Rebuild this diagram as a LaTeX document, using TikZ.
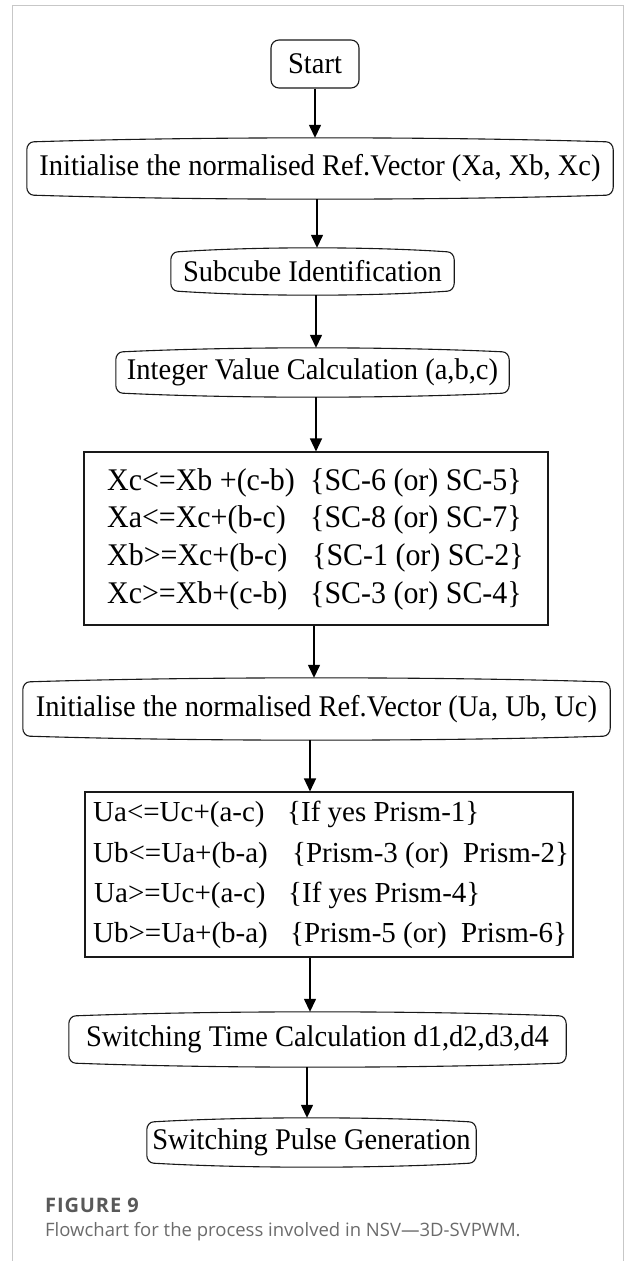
\documentclass[tikz,border=0pt]{standalone}
\usepackage{fontspec}
\setmainfont{Liberation Serif}
\newfontfamily\tallserif[FakeStretch=0.95]{Liberation Serif}
\newfontfamily\capfont{Open Sans}
\newfontfamily\caplabelfont[LetterSpace=4.5]{Open Sans}
\usetikzlibrary{arrows.meta,calc}
\newcommand\bulgeout[1]{%
 \draw[outline] ([yshift=-12pt]#1.north west) -- ([yshift=12pt]#1.south west)
   to[out=-90,in=180] ([shift={(7pt,4pt)}]#1.south west)
   .. controls ($(#1.south west)!0.3!(#1.south east)+(0,-1.3pt)$) and ($(#1.south west)!0.7!(#1.south east)+(0,-1.3pt)$) .. ([shift={(-7pt,4pt)}]#1.south east)
   to[out=0,in=-90] ([yshift=12pt]#1.south east)
   -- ([yshift=-12pt]#1.north east)
   to[out=90,in=0] ([shift={(-7pt,-4pt)}]#1.north east)
   .. controls ($(#1.north west)!0.7!(#1.north east)+(0,1.3pt)$) and ($(#1.north west)!0.3!(#1.north east)+(0,1.3pt)$) .. ([shift={(7pt,-4pt)}]#1.north west)
   to[out=180,in=90] ([yshift=-12pt]#1.north west);}
\begin{document}
\begin{tikzpicture}[x=1pt,y=1pt,
  box/.style={draw=none, inner sep=0pt, font=\tallserif\fontsize{30}{34}\selectfont, text=black},
  plainbox/.style={draw=black!90, line width=1.1pt, inner sep=0pt},
  startbox/.style={box, draw=black!90, line width=1.1pt, rounded corners=8pt},
  rowA/.style={anchor=base west, inner sep=0pt, font=\tallserif\fontsize{31.5}{36}\selectfont},
  rowB/.style={anchor=base west, inner sep=0pt, font=\fontsize{29}{34}\selectfont},
  arr/.style={draw=black, line width=1.4pt, -{Triangle[length=13pt,width=12pt]}},
  outline/.style={draw=black!90, line width=1.1pt},
  frameline/.style={draw=black!22, line width=1pt},
  figlabel/.style={anchor=base west, inner sep=0pt, text=black!65, font=\caplabelfont\bfseries\fontsize{20}{23}\selectfont},
  figcap/.style={anchor=base west, inner sep=0pt, text=black!58, font=\capfont\fontsize{18.5}{21}\selectfont}]
\useasboundingbox (0,0) rectangle (625,-1261);
\draw[frameline] (12,-1261) -- (12,-5) -- (623,-5) -- (623,-1261);

\node[startbox, minimum width=88pt, minimum height=48pt] (start) at (315,-64) {Start};
\node[box, minimum width=586pt, minimum height=61pt] (init1) at (320,-168.5) {Initialise the normalised Ref.Vector (Xa, Xb, Xc)};
\node[box, minimum width=283pt, minimum height=47pt] (subcube) at (312.5,-271.5) {Subcube Identification};
\node[box, minimum width=393pt, minimum height=49pt] (integer) at (312.5,-372.5) {Integer Value Calculation (a,b,c)};

\node[plainbox, minimum width=464pt, minimum height=173pt] (cond1) at (316,-538.5) {};
\node[rowA] (c1a) at (107,-490) {\makebox[203pt][l]{Xc<=Xb +(c-b)}\{SC-6 (or) SC-5\}};
\node[rowA] (c1b) at (107,-527.7) {\makebox[203pt][l]{Xa<=Xc+(b-c)}\{SC-8 (or) SC-7\}};
\node[rowA] (c1c) at (107,-565.4) {\makebox[205pt][l]{Xb>=Xc+(b-c)}\{SC-1 (or) SC-2\}};
\node[rowA] (c1d) at (107,-603) {\makebox[203pt][l]{Xc>=Xb+(c-b)}\{SC-3 (or) SC-4\}};

\node[box, minimum width=587pt, minimum height=62pt] (init2) at (316.5,-709) {Initialise the normalised Ref.Vector (Ua, Ub, Uc)};

\node[plainbox, minimum width=488pt, minimum height=165pt] (cond2) at (329,-874.5) {};
\node[rowB] (c2a) at (93,-821) {\makebox[194pt][l]{Ua<=Uc+(a-c)}\{If yes Prism-1\}};
\node[rowB] (c2b) at (93,-862) {\makebox[199pt][l]{Ub<=Ua+(b-a)}\{Prism-3 (or)\ \ Prism-2\}};
\node[rowB] (c2c) at (94,-902) {\makebox[194pt][l]{Ua>=Uc+(a-c)}\{If yes Prism-4\}};
\node[rowB] (c2d) at (93,-942) {\makebox[197pt][l]{Ub>=Ua+(b-a)}\{Prism-5 (or)\ \ Prism-6\}};

\node[box, minimum width=497pt, minimum height=55pt] (switch) at (317.5,-1039.5) {Switching Time Calculation d1,d2,d3,d4};
\node[box, minimum width=329pt, minimum height=49pt] (pulse) at (311.5,-1142.5) {Switching Pulse Generation};

\bulgeout{init1}
\bulgeout{subcube}
\bulgeout{integer}
\bulgeout{init2}
\bulgeout{switch}
\bulgeout{pulse}

\draw[arr] (start.south) -- (start.south |- init1.north);
\draw[arr] ([xshift=-3pt]init1.south) -- ([xshift=-3pt]init1.south |- subcube.north);
\draw[arr] ([xshift=3.5pt]subcube.south) -- ([xshift=3.5pt]subcube.south |- integer.north);
\draw[arr] ([xshift=3.5pt]integer.south) -- ([xshift=3.5pt]integer.south |- cond1.north);
\draw[arr] ([xshift=-2pt]cond1.south) -- ([xshift=-2pt]cond1.south |- init2.north);
\draw[arr] ([xshift=-6.5pt]init2.south) -- ([xshift=-6.5pt]init2.south |- cond2.north);
\draw[arr] ([xshift=-19pt]cond2.south) -- ([xshift=-19pt]cond2.south |- switch.north);
\draw[arr] ([xshift=-10.5pt]switch.south) -- ([xshift=-10.5pt]switch.south |- pulse.north);

\node[figlabel] (figno) at (45,-1212) {FIGURE 9};
\node[figcap] (figtext) at (45,-1236) {Flowchart for the process involved in NSV—3D-SVPWM.};
\end{tikzpicture}
\end{document}
